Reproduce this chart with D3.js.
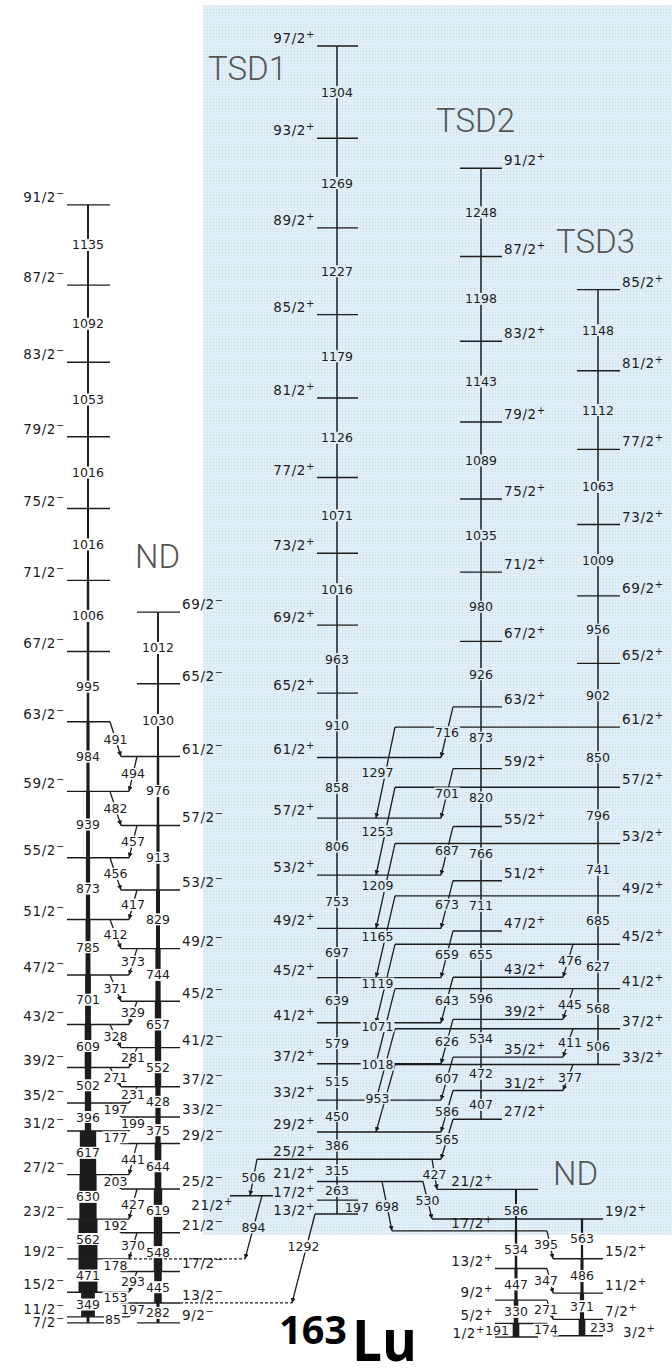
<!DOCTYPE html>
<html>
<head>
<meta charset="utf-8">
<script src="https://cdn.jsdelivr.net/npm/d3@7"></script>
<style>
  body { margin: 0; background: #fff; }
  svg { display: block; font-family: "DejaVu Sans", sans-serif; }
</style>
</head>
<body>
<svg id="chart" width="672" height="1368"></svg>
<script>
// level spins (2J) from the bottom of each band, and the in-band gamma energies (keV)
const ndA_spins  = [7,11,15,19,23,27,31,35,39,43,47,51,55,59,63,67,71,75,79,83,87,91];
const ndA_gammas = [85,349,471,562,630,617,396,502,609,701,785,873,939,984,995,1006,1016,1016,1053,1092,1135];
const ndA_int    = [8,70,100,100,90,85,28,28,30,25,20,16,14,10,6,6,4,3,3,3,3];

const ndB_spins  = [9,13,17,21,25,29,33,37,41,45,49,53,57,61,65,69];
const ndB_gammas = [282,445,548,619,644,375,428,552,657,744,829,913,976,1030,1012];
const ndB_int    = [10,35,40,40,30,22,22,28,28,22,15,10,6,3,3];

const tsd1_spins  = [13,17,21,25,29,33,37,41,45,49,53,57,61,65,69,73,77,81,85,89,93,97];
const tsd1_gammas = [197,263,315,386,450,515,579,639,697,753,806,858,910,963,1016,1071,1126,1179,1227,1269,1304];

const tsd2_spins  = [27,31,35,39,43,47,51,55,59,63,67,71,75,79,83,87,91];
const tsd2_gammas = [407,472,534,596,655,711,766,820,873,926,980,1035,1089,1143,1198,1248];

const tsd3_spins  = [33,37,41,45,49,53,57,61,65,69,73,77,81,85];
const tsd3_gammas = [506,568,627,685,741,796,850,902,956,1009,1063,1112,1148];

const ndP1_spins  = [1,5,9,13,17,21];
const ndP1_gammas = [191,330,447,534,586];
const ndP1_int    = [30,18,10,6,4];

const ndP2_spins  = [3,7,11,15,19];
const ndP2_gammas = [233,371,486,563];
const ndP2_int    = [30,16,10,5];

const side_spins = [21];

const bandIds    = ["A", "B", "T1", "T2", "T3", "P1", "P2", "S"];
const bandParity = ["−", "−", "+", "+", "+", "+", "+", "+"];
const bandHeadE  = [200, 200, 1740, 3080, 3854, 0, 17, 1999];   // keV, bottom level of each band

// interband transitions: [from band, 2J, to band, 2J, keV]
const ndLinks = [
  ["A",15,"B",13,153],["A",19,"B",17,178],["A",23,"B",21,192],["A",27,"B",25,203],["A",31,"B",29,177],
  ["A",35,"B",33,197],["A",39,"B",37,271],["A",43,"B",41,328],["A",47,"B",45,371],["A",51,"B",49,412],
  ["A",55,"B",53,456],["A",59,"B",57,482],["A",63,"B",61,491],
  ["B",13,"A",11,197],["B",17,"A",15,293],["B",21,"A",19,370],["B",25,"A",23,427],["B",29,"A",27,441],
  ["B",33,"A",31,199],["B",37,"A",35,231],["B",41,"A",39,281],["B",45,"A",43,329],["B",49,"A",47,373],
  ["B",53,"A",51,417],["B",57,"A",55,457],["B",61,"A",59,494]
];
const tsdLinks = [
  ["T2",27,"T1",25,565],["T2",31,"T1",29,586],["T2",35,"T1",33,607],["T2",39,"T1",37,626],["T2",43,"T1",41,643],
  ["T2",47,"T1",45,659],["T2",51,"T1",49,673],["T2",55,"T1",53,687],["T2",59,"T1",57,701],["T2",63,"T1",61,716],
  ["T3",33,"T1",29,953],["T3",37,"T1",33,1018],["T3",41,"T1",37,1071],["T3",45,"T1",41,1119],
  ["T3",49,"T1",45,1165],["T3",53,"T1",49,1209],["T3",57,"T1",53,1253],["T3",61,"T1",57,1297],
  ["T3",33,"T2",31,377],["T3",37,"T2",35,411],["T3",41,"T2",39,445],["T3",45,"T2",43,476]
];
const lowLinks = [
  ["T1",25,"S",21,506],["S",21,"A",19,894],["T1",13,"B",13,1292],
  ["T1",25,"P1",21,427],["T1",21,"P2",19,530],["T1",21,"P1",17,698],
  ["P1",5,"P2",3,174],["P1",9,"P2",7,271],["P1",13,"P2",11,347],["P1",17,"P2",15,395]
];

const titles = [["TSD1", 208, 80], ["TSD2", 436, 132], ["TSD3", 556, 253], ["ND", 135, 568], ["ND", 553, 1185]];

// ---------------------------------------------------------------
const svg = d3.select("#chart");
const ink = "#1c1c1c";

const y = d3.scaleLinear().domain([0, 18000]).range([1337, 64.6]);
const width = d3.scaleLinear().domain([0, 100]).range([1.4, 19]);

const geo = {
  A:  {cx: 88,  x0: 67,  x1: 110, side: "left",  small: 25},
  B:  {cx: 158, x0: 137, x1: 180, side: "right", small: 22},
  T1: {cx: 337, x0: 317, x1: 358, side: "left",  small: 20},
  T2: {cx: 481, x0: 460, x1: 502, side: "right", small: 20},
  T3: {cx: 598, x0: 577, x1: 620, side: "right", small: 20},
  P1: {cx: 516, x0: 495, x1: 538, side: "left",  small: -19},
  P2: {cx: 582, x0: 561, x1: 603, side: "right", small: 20},
  S:  {cx: 252, x0: 230, x1: 273, side: "below", small: 0}
};

function linkGeom(f, fs, t) {
  switch (f + ">" + t) {
    case "A>B":   return {x1: 110, x2: 121};
    case "B>A":   return {x1: 137, x2: 129};
    case "T2>T1": return {x1: 453, x2: 441};
    case "T3>T1": return {x1: 395, x2: 376, dx: -8};
    case "T3>T2": return {x1: 573, x2: 563, dx: 2};
    case "T1>S":  return {x1: 257, x2: 250};
    case "S>A":   return {x1: 262, x2: 245, dashed: true};
    case "T1>B":  return {x1: 315, x2: 292, dashed: true, dy: -12};
    case "T1>P1": return fs === 25 ? {x1: 432, x2: 437} : {x1: 382, x2: 392};
    case "T1>P2": return {x1: 423, x2: 432};
    case "P1>P2": return {x1: 547, x2: 553, dx: -4};
  }
  return {x1: geo[f].x0, x2: geo[t].x1};
}

const bandSpins  = [ndA_spins, ndB_spins, tsd1_spins, tsd2_spins, tsd3_spins, ndP1_spins, ndP2_spins, side_spins];
const bandGammas = [ndA_gammas, ndB_gammas, tsd1_gammas, tsd2_gammas, tsd3_gammas, ndP1_gammas, ndP2_gammas, []];
const bandInts   = [ndA_int, ndB_int, null, null, null, ndP1_int, ndP2_int, null];

const levels = new Map();
const bands = bandIds.map((id, i) => {
  let e = bandHeadE[i];
  const lv = bandSpins[i].map((j, k) => {
    if (k > 0) e += bandGammas[i][k - 1];
    const l = {band: id, spin: j, E: e, y: y(e), lo: geo[id].x0, hi: geo[id].x1, parity: bandParity[i]};
    levels.set(id + ":" + j, l);
    return l;
  });
  lv.forEach((l, k) => { l.gapUp = k < lv.length - 1 ? l.y - lv[k + 1].y : 99; });
  return {id, levels: lv, gammas: bandGammas[i], ints: bandInts[i]};
});

const allLinks = ndLinks.concat(tsdLinks, lowLinks).map(([f, fs, t, ts, e]) => {
  const up = levels.get(f + ":" + fs), dn = levels.get(t + ":" + ts);
  const g = linkGeom(f, fs, t);
  up.lo = Math.min(up.lo, g.x1); up.hi = Math.max(up.hi, g.x1);
  if (g.dashed) dn.dash = g.x2;
  else { dn.lo = Math.min(dn.lo, g.x2); dn.hi = Math.max(dn.hi, g.x2); }
  return {up, dn, g, e};
});

// background shade
const defs = svg.append("defs");
const pat = defs.append("pattern").attr("id", "shade").attr("patternUnits", "userSpaceOnUse")
  .attr("width", 3).attr("height", 3);
pat.append("rect").attr("width", 3).attr("height", 3).attr("fill", "#e0eff7");
pat.append("rect").attr("width", 1).attr("height", 1).attr("fill", "#c3deec");
defs.append("marker").attr("id", "arr").attr("viewBox", "0 0 6 6").attr("refX", 6).attr("refY", 3)
  .attr("markerUnits", "userSpaceOnUse").attr("markerWidth", 5).attr("markerHeight", 5).attr("orient", "auto")
  .append("path").attr("d", "M0,0L6,3L0,6z").attr("fill", ink);

svg.append("rect").attr("x", 203).attr("y", 5).attr("width", 469).attr("height", 1230).attr("fill", "url(#shade)");
const inShade = (x, yy) => x > 203 && yy < 1235;

const lineLayer = svg.append("g").attr("stroke", ink);
const labelLayer = svg.append("g").attr("fill", ink);

// level lines
const allLevels = Array.from(levels.values());
lineLayer.selectAll("line.level").data(allLevels).join("line").attr("class", "level")
  .attr("x1", d => d.lo).attr("x2", d => d.hi).attr("y1", d => d.y).attr("y2", d => d.y)
  .attr("stroke-width", 1.4);
lineLayer.selectAll("line.dash").data(allLevels.filter(d => d.dash)).join("line").attr("class", "dash")
  .attr("x1", d => d.hi).attr("x2", d => d.dash).attr("y1", d => d.y).attr("y2", d => d.y)
  .attr("stroke-width", 1.2).attr("stroke-dasharray", "3,2");

function boxLabel(x, yy, txt) {
  const g = labelLayer.append("g");
  const t = g.append("text").attr("x", x).attr("y", yy).attr("dy", "0.36em")
    .attr("text-anchor", "middle").attr("font-size", 12.5).text(txt);
  const b = t.node().getBBox();
  g.insert("rect", "text").attr("x", b.x - 1).attr("y", b.y + 1.5)
    .attr("width", b.width + 2).attr("height", b.height - 3)
    .attr("fill", inShade(x, yy) ? "url(#shade)" : "#fff");
}

// in-band cascades
bands.forEach(b => {
  const gm = geo[b.id];
  b.gammas.forEach((e, k) => {
    const lo = b.levels[k], hi = b.levels[k + 1];
    lineLayer.append("line").attr("x1", gm.cx).attr("x2", gm.cx).attr("y1", lo.y).attr("y2", hi.y)
      .attr("stroke-width", b.ints ? width(b.ints[k]) : 1.5);
  });
});

// interband transitions
allLinks.forEach(l => {
  lineLayer.append("line").attr("x1", l.g.x1).attr("y1", l.up.y).attr("x2", l.g.x2).attr("y2", l.dn.y)
    .attr("stroke-width", 1.3).attr("marker-end", "url(#arr)");
});

// gamma labels
bands.forEach(b => {
  const gm = geo[b.id];
  b.gammas.forEach((e, k) => {
    const lo = b.levels[k], hi = b.levels[k + 1];
    const gap = lo.y - hi.y;
    boxLabel(gap < 17 ? gm.cx + gm.small : gm.cx, (lo.y + hi.y) / 2, e);
  });
});
allLinks.forEach(l => {
  boxLabel((l.g.x1 + l.g.x2) / 2 + (l.g.dx || 0), (l.up.y + l.dn.y) / 2 + (l.g.dy || 0), l.e);
});

// spin labels
allLevels.forEach(l => {
  const gm = geo[l.band];
  const crowded = l.gapUp < 17;                 // gamma label pushed beside the band
  const ly = l.gapUp < 10 ? l.y + 4.5 : crowded ? l.y + 1 : l.y - 3;
  const t = labelLayer.append("text").attr("font-size", 13.5).attr("letter-spacing", 0.6);
  if (gm.side === "left") {
    t.attr("x", gm.x0 - 2 - (crowded && gm.small < 0 ? 8 : 0)).attr("y", ly).attr("text-anchor", "end");
  } else if (gm.side === "right") {
    t.attr("x", gm.x1 + 2 + (crowded && l.band === "P2" ? 18 : 0)).attr("y", ly);
  } else {
    t.attr("x", gm.x0 + 3).attr("y", l.y + 14).attr("text-anchor", "end");
  }
  t.append("tspan").text(l.spin + "/2");
  t.append("tspan").attr("dy", -5).attr("font-size", 10).text(l.parity);
});

// band titles
svg.append("g").selectAll("text").data(titles).join("text")
  .attr("x", d => d[1]).attr("y", d => d[2]).text(d => d[0])
  .attr("font-family", "Roboto, sans-serif").attr("font-weight", 300)
  .attr("font-size", 33).attr("fill", "#555");

// nucleus label
svg.append("text").attr("x", 279).attr("y", 1344).text("163")
  .attr("font-family", "'Open Sans', sans-serif").attr("font-weight", 700).attr("font-size", 40)
  .attr("textLength", 68).attr("lengthAdjust", "spacingAndGlyphs").attr("fill", "#000");
svg.append("text").attr("x", 352).attr("y", 1361).text("Lu")
  .attr("font-family", "'Open Sans', sans-serif").attr("font-weight", 700).attr("font-size", 58)
  .attr("textLength", 65).attr("lengthAdjust", "spacingAndGlyphs").attr("fill", "#000");
</script>
</body>
</html>
